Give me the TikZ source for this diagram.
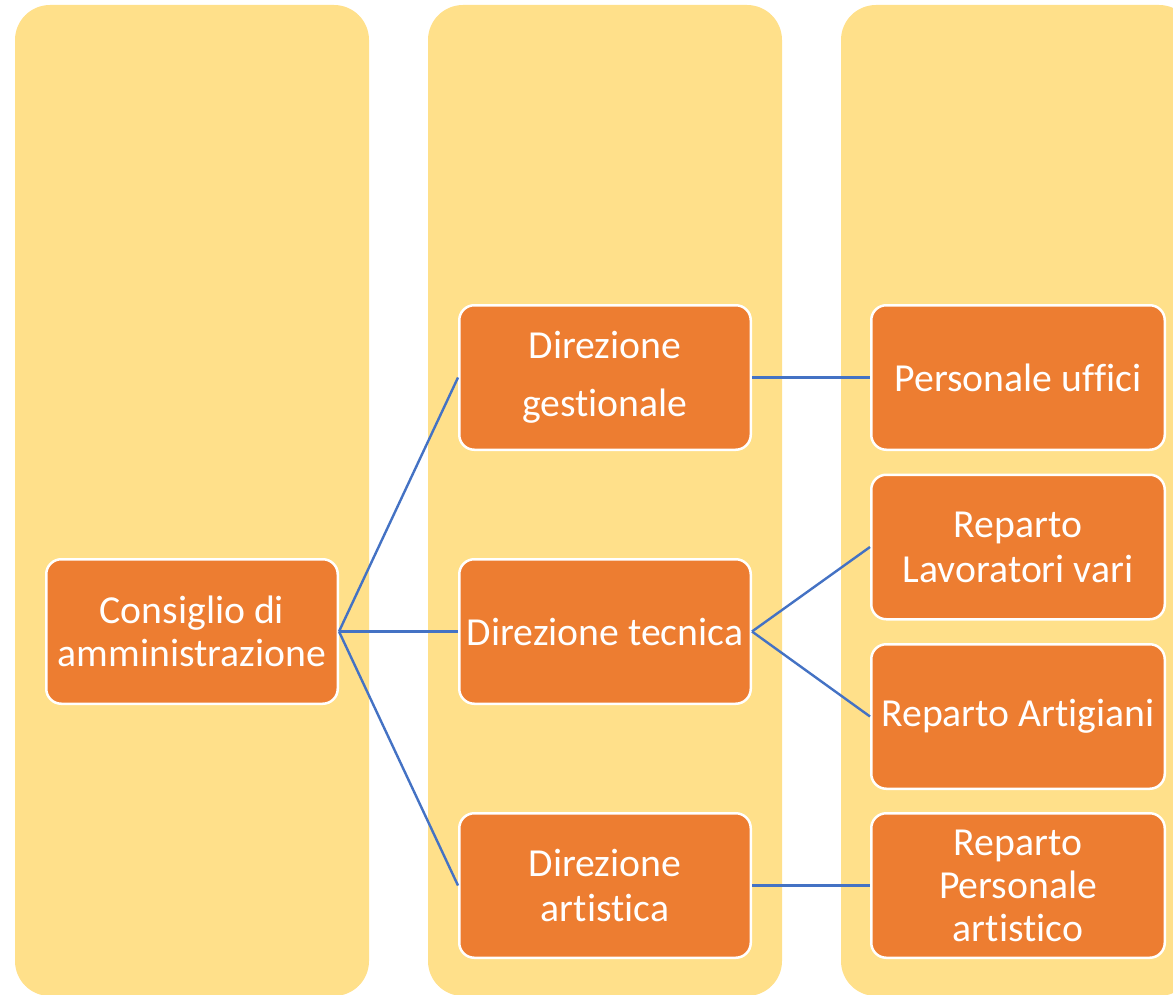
\documentclass[tikz,border=0pt]{standalone}
\usepackage{fontspec}
\setmainfont{Carlito}[Ligatures={NoCommon,NoRare}]
\definecolor{colyellow}{HTML}{FFE08A}
\definecolor{boxorange}{HTML}{ED7D31}
\definecolor{linkblue}{HTML}{4472C4}
\begin{document}
\begin{tikzpicture}[x=1pt,y=-1pt,
  column/.style={fill=colyellow,draw=none,rounded corners=35pt},
  orgbox/.style={rectangle,rounded corners=15pt,fill=boxorange,draw=white,line width=2.5pt,
    text=white,align=center,inner sep=0pt,minimum width=291.5pt,minimum height=144.5pt,
    font=\fontsize{39.7}{45}\selectfont},
  link/.style={draw=linkblue,line width=2.4pt}]
\useasboundingbox (0,0) rectangle (1173,995);
\clip (0,0) rectangle (1173,995);
\fill[white] (0,0) rectangle (1173,995);
\path[column] (15,5) rectangle (369,996);
\path[column] (428,5) rectangle (782,996);
\path[column] (841,5) rectangle (1194,996);

\node[orgbox,font=\fontsize{39.7}{43}\selectfont] (cda) at (192,631.5) {Consiglio di\\amministrazione};
\node[orgbox,font=\fontsize{39.7}{58}\selectfont] (dg) at (605,377.5) {Direzione\\gestionale};
\node[orgbox] (dt) at (605,631.5) {Direzione tecnica};
\node[orgbox] (da) at (605,885.5) {Direzione\\artistica};
\node[orgbox,minimum width=293.5pt] (pu) at (1018,377.5) {Personale uffici};
\node[orgbox,minimum width=293.5pt] (rl) at (1018,547) {Reparto\\Lavoratori vari};
\node[orgbox,minimum width=293.5pt] (ra) at (1018,716.5) {Reparto Artigiani};
\node[orgbox,minimum width=293.5pt,font=\fontsize{39.7}{43}\selectfont] (rp) at (1018,885.5) {Reparto\\Personale\\artistico};

\draw[link] (cda.east) -- (dg.west);
\draw[link] (cda.east) -- (dt.west);
\draw[link] (cda.east) -- (da.west);
\draw[link] (dg.east) -- (pu.west);
\draw[link] (dt.east) -- (rl.west);
\draw[link] (dt.east) -- (ra.west);
\draw[link] (da.east) -- (rp.west);
\end{tikzpicture}
\end{document}
